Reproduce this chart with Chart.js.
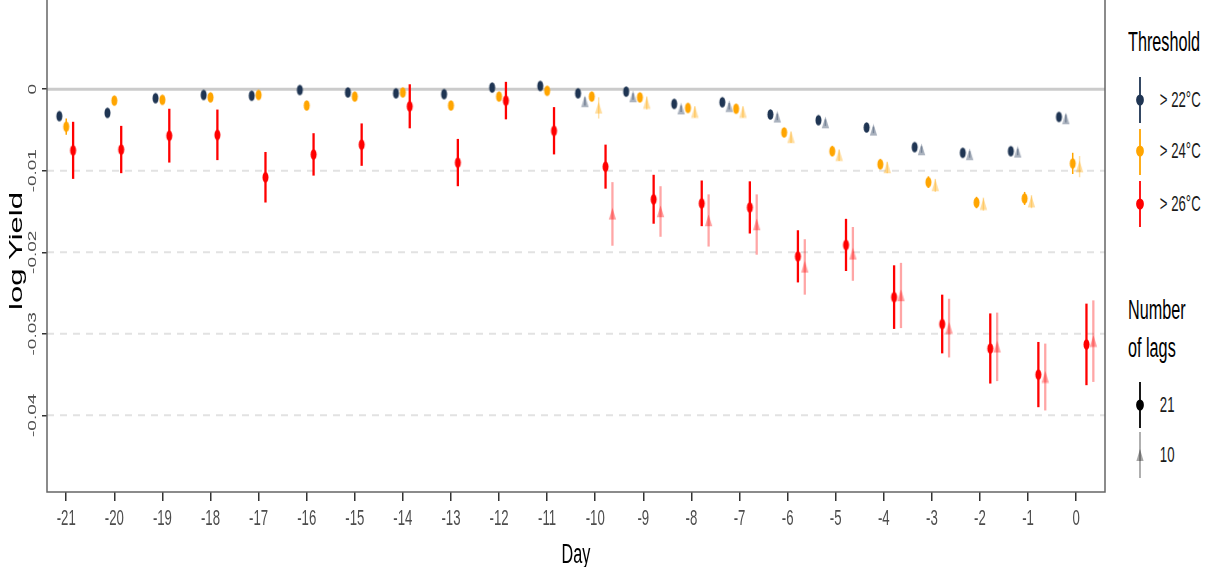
<!DOCTYPE html>
<html>
<head>
<meta charset="utf-8">
<script src="https://cdn.jsdelivr.net/npm/chart.js@4.4.1/dist/chart.umd.min.js"></script>
<style>
  html, body { margin: 0; padding: 0; background: #fff; }
  #wrap { position: relative; width: 1210px; height: 567px; overflow: hidden; }
  #c { position: absolute; left: 0; top: 0; }
  #legend { position: absolute; left: 1128px; top: 0; width: 200px; height: 567px;
            transform: scaleX(0.6); transform-origin: 0 0;
            font-family: "Liberation Sans", Arial, sans-serif; color: #1a1a1a; }
  #legend div { position: absolute; white-space: nowrap; line-height: 1; }
  #legend .ttl { font-size: 27px; color: #000; }
  #legend .lab { font-size: 22px; left: 53px; }
  #legend svg { position: absolute; left: 10px; }
</style>
</head>
<body>
<div id="wrap">
  <canvas id="c" width="1115" height="567"></canvas>
  <div id="legend"></div>
</div>
<script>
// days and tick labels
const days21 = [-21, -20, -19, -18, -17, -16, -15, -14, -13, -12, -11, -10, -9, -8, -7, -6, -5, -4, -3, -2, -1, 0];
const days10 = [-10, -9, -8, -7, -6, -5, -4, -3, -2, -1, 0];
const xTicks = [-21, -20, -19, -18, -17, -16, -15, -14, -13, -12, -11, -10, -9, -8, -7, -6, -5, -4, -3, -2, -1, 0];
const yTicks = [0, -0.01, -0.02, -0.03, -0.04];
const yTickLabels = ['0', '-0.01', '-0.02', '-0.03', '-0.04'];

// 21 lags, estimate and half width of the interval
const navy21 = [-0.0033, -0.0029, -0.0011, -0.0007, -0.0008, -0.0001, -0.0004, -0.0005, -0.0006, 0.0002, 0.0004, -0.0005, -0.0003, -0.0018, -0.0016, -0.0031, -0.0038, -0.0047, -0.0071, -0.0078, -0.0076, -0.0034];
const navy21Err = [0.0004, 0.0003, 0.0003, 0.0003, 0.0003, 0.0003, 0.0003, 0.0003, 0.0003, 0.0003, 0.0003, 0.0003, 0.0003, 0.0003, 0.0003, 0.0003, 0.0003, 0.0003, 0.0003, 0.0003, 0.0003, 0.0004];
const orange21 = [-0.0046, -0.0014, -0.0013, -0.0010, -0.0007, -0.0020, -0.0009, -0.0004, -0.0020, -0.0009, -0.0002, -0.0009, -0.0010, -0.0023, -0.0024, -0.0053, -0.0076, -0.0092, -0.0114, -0.0139, -0.0134, -0.0091];
const orange21Err = [0.0010, 0.0005, 0.0004, 0.0004, 0.0004, 0.0004, 0.0004, 0.0004, 0.0004, 0.0004, 0.0004, 0.0005, 0.0005, 0.0005, 0.0005, 0.0005, 0.0006, 0.0006, 0.0007, 0.0007, 0.0008, 0.0013];
const red21 = [-0.0075, -0.0074, -0.0057, -0.0056, -0.0108, -0.0080, -0.0068, -0.0021, -0.0090, -0.0014, -0.0051, -0.0095, -0.0135, -0.0140, -0.0145, -0.0205, -0.0191, -0.0255, -0.0288, -0.0318, -0.0350, -0.0313];
const red21Err = [0.0035, 0.0029, 0.0033, 0.0031, 0.0031, 0.0026, 0.0026, 0.0027, 0.0029, 0.0023, 0.0029, 0.0027, 0.0030, 0.0028, 0.0032, 0.0032, 0.0032, 0.0039, 0.0036, 0.0043, 0.0040, 0.0050];

// 10 lags
const navy10 = [-0.0015, -0.0009, -0.0024, -0.0021, -0.0034, -0.0041, -0.0050, -0.0074, -0.0080, -0.0077, -0.0036];
const navy10Err = [0.0005, 0.0004, 0.0004, 0.0004, 0.0004, 0.0004, 0.0004, 0.0004, 0.0004, 0.0004, 0.0005];
const orange10 = [-0.0023, -0.0017, -0.0028, -0.0028, -0.0059, -0.0081, -0.0096, -0.0118, -0.0141, -0.0138, -0.0095];
const orange10Err = [0.0013, 0.0008, 0.0007, 0.0007, 0.0007, 0.0007, 0.0007, 0.0008, 0.0008, 0.0008, 0.0013];
const red10 = [-0.0153, -0.0150, -0.0161, -0.0166, -0.0218, -0.0202, -0.0253, -0.0293, -0.0316, -0.0353, -0.0309];
const red10Err = [0.0039, 0.0031, 0.0032, 0.0037, 0.0034, 0.0033, 0.0040, 0.0036, 0.0042, 0.0041, 0.0050];

const NAVY = '#1f3553', ORANGE = '#ffa500', RED = '#ff0000';
const SQUEEZE = 0.6; // the original picture is squashed sideways
const FONT = '"Liberation Sans", Arial, sans-serif';
const fade = (hex, a) => {
  const n = parseInt(hex.slice(1), 16);
  return `rgba(${n >> 16}, ${(n >> 8) & 255}, ${n & 255}, ${a})`;
};

// little marker images (taller than wide, like the squeezed original)
function marker(shape, color) {
  const c = document.createElement('canvas');
  c.width = 9; c.height = 13;
  const g = c.getContext('2d');
  g.fillStyle = color;
  g.beginPath();
  if (shape === 'circle') {
    g.ellipse(4.5, 6.5, 3.0, 5.3, 0, 0, Math.PI * 2);
  } else {
    g.moveTo(4.5, 0.5); g.lineTo(8.2, 12.3); g.lineTo(0.8, 12.3); g.closePath();
  }
  g.fill();
  return c;
}

// position dodge: 3 slots before day -10, 6 slots from day -10 on
const SLOT = 0.143;
function dodge(day, thr, lag) {
  if (day < -10) return day + (thr - 1) * SLOT;
  return day + (thr * 2 + lag - 2.5) * SLOT;
}

function makeSet(label, days, vals, errs, thr, lag, color) {
  const ten = lag === 1;
  return {
    label: label,
    data: days.map((d, i) => ({ x: dodge(d, thr, lag), y: vals[i], e: errs[i] })),
    pointStyle: marker(ten ? 'triangle' : 'circle', ten ? fade(color, 0.38) : color),
    pointRadius: 5,
    barColor: ten ? fade(color, 0.35) : color,
    barWidth: color === RED ? 2.3 : 1.5
  };
}

const datasets = [
  makeSet('> 22°C, 21', days21, navy21, navy21Err, 0, 0, NAVY),
  makeSet('> 22°C, 10', days10, navy10, navy10Err, 0, 1, NAVY),
  makeSet('> 24°C, 21', days21, orange21, orange21Err, 1, 0, ORANGE),
  makeSet('> 24°C, 10', days10, orange10, orange10Err, 1, 1, ORANGE),
  makeSet('> 26°C, 21', days21, red21, red21Err, 2, 0, RED),
  makeSet('> 26°C, 10', days10, red10, red10Err, 2, 1, RED)
];

function squeezedText(ctx, text, x, y, rotated) {
  ctx.save();
  ctx.translate(x, y);
  ctx.scale(SQUEEZE, 1);
  if (rotated) ctx.rotate(-Math.PI / 2);
  ctx.fillText(text, 0, 0);
  ctx.restore();
}

const gridLines = {
  id: 'gridLines',
  beforeDatasetsDraw(chart) {
    const { ctx, chartArea: a } = chart;
    const y = chart.scales.y;
    ctx.save();
    yTicks.forEach(v => {
      const py = y.getPixelForValue(v);
      ctx.beginPath();
      if (v === 0) {
        ctx.strokeStyle = '#cbcbcb'; ctx.lineWidth = 3; ctx.setLineDash([]);
      } else {
        ctx.strokeStyle = '#e2e2e2'; ctx.lineWidth = 2; ctx.setLineDash([7, 6]);
      }
      ctx.moveTo(a.left, py); ctx.lineTo(a.right, py);
      ctx.stroke();
    });
    ctx.restore();
  }
};

const errorBars = {
  id: 'errorBars',
  beforeDatasetsDraw(chart) {
    const { ctx } = chart;
    const y = chart.scales.y;
    chart.data.datasets.forEach((ds, i) => {
      const meta = chart.getDatasetMeta(i);
      ctx.save();
      ctx.strokeStyle = ds.barColor;
      ctx.lineWidth = ds.barWidth;
      meta.data.forEach((pt, j) => {
        const d = ds.data[j];
        ctx.beginPath();
        ctx.moveTo(pt.x, y.getPixelForValue(d.y - d.e));
        ctx.lineTo(pt.x, y.getPixelForValue(d.y + d.e));
        ctx.stroke();
      });
      ctx.restore();
    });
  }
};

// panel frame plus squeezed axis texts
const frame = {
  id: 'frame',
  afterDraw(chart) {
    const { ctx, chartArea: a } = chart;
    const x = chart.scales.x, y = chart.scales.y;
    ctx.save();
    ctx.strokeStyle = '#666';
    ctx.lineWidth = 1.5;
    ctx.beginPath();
    ctx.moveTo(a.left, 0); ctx.lineTo(a.left, a.bottom);
    ctx.lineTo(a.right, a.bottom); ctx.lineTo(a.right, 0);
    ctx.stroke();

    ctx.textAlign = 'center';
    ctx.textBaseline = 'middle';
    ctx.fillStyle = '#4d4d4d';
    ctx.font = '19px ' + FONT;
    yTicks.forEach((v, i) => squeezedText(ctx, yTickLabels[i], a.left - 14, y.getPixelForValue(v), true));
    ctx.font = '22px ' + FONT;
    xTicks.forEach(v => squeezedText(ctx, String(v), x.getPixelForValue(v), a.bottom + 27, false));

    ctx.fillStyle = '#000';
    ctx.font = '31px ' + FONT;
    squeezedText(ctx, 'log Yield', 17, 251, true);
    ctx.font = '27px ' + FONT;
    squeezedText(ctx, 'Day', (a.left + a.right) / 2, a.bottom + 64, false);
    ctx.restore();
  }
};

new Chart(document.getElementById('c'), {
  type: 'scatter',
  data: { datasets: datasets },
  plugins: [gridLines, errorBars, frame],
  options: {
    responsive: false,
    animation: false,
    layout: { padding: { top: 0, right: 10, bottom: 0, left: 0 } },
    plugins: { legend: { display: false }, tooltip: { enabled: false } },
    scales: {
      x: {
        type: 'linear',
        min: -21.4,
        max: 0.6,
        afterBuildTicks: s => { s.ticks = xTicks.map(v => ({ value: v })); },
        afterFit: s => { s.height = 75; },
        ticks: { display: false },
        grid: { drawOnChartArea: false, drawTicks: true, tickLength: 9, color: '#333', lineWidth: 1.5 },
        border: { display: false }
      },
      y: {
        min: -0.0494,
        max: 0.0102,
        afterBuildTicks: s => { s.ticks = yTicks.map(v => ({ value: v })); },
        afterFit: s => { s.width = 47; },
        ticks: { display: false },
        grid: { drawOnChartArea: false, drawTicks: true, tickLength: 5, color: '#333', lineWidth: 1.5 },
        border: { display: false }
      }
    }
  }
});

// legend, built as html
const legendItems = [
  { kind: 'ttl', text: 'Threshold', top: 29 },
  { kind: 'key', text: '> 22°C', top: 100, color: NAVY, shape: 'circle', y0: 77, y1: 123 },
  { kind: 'key', text: '> 24°C', top: 151, color: ORANGE, shape: 'circle', y0: 129, y1: 175 },
  { kind: 'key', text: '> 26°C', top: 204, color: RED, shape: 'circle', y0: 181, y1: 227 },
  { kind: 'ttl', text: 'Number', top: 297 },
  { kind: 'ttl', text: 'of lags', top: 335 },
  { kind: 'key', text: '21', top: 405, color: '#000', shape: 'circle', y0: 382, y1: 428 },
  { kind: 'key', text: '10', top: 455, color: fade('#000000', 0.35), shape: 'triangle', y0: 432, y1: 478 }
];
const lg = document.getElementById('legend');
legendItems.forEach(it => {
  if (it.kind === 'ttl') {
    const d = document.createElement('div');
    d.className = 'ttl'; d.textContent = it.text; d.style.top = it.top + 'px';
    lg.appendChild(d);
    return;
  }
  const h = it.y1 - it.y0;
  const mid = it.top - it.y0;
  const mk = it.shape === 'circle'
    ? `<ellipse cx="10" cy="${mid}" rx="6.5" ry="5.5" fill="${it.color}"/>`
    : `<polygon points="10,${mid - 6} 16,${mid + 6} 4,${mid + 6}" fill="${it.color}"/>`;
  lg.insertAdjacentHTML('beforeend',
    `<svg width="20" height="${h}" style="top:${it.y0}px"><line x1="10" y1="0" x2="10" y2="${h}" stroke="${it.color}" stroke-width="3"/>${mk}</svg>`);
  const d = document.createElement('div');
  d.className = 'lab'; d.textContent = it.text; d.style.top = (it.top - 11) + 'px';
  lg.appendChild(d);
});
</script>
</body>
</html>
